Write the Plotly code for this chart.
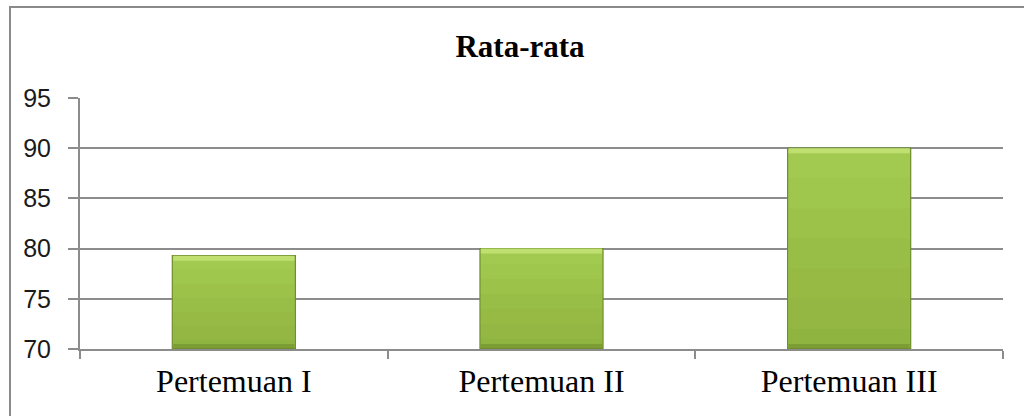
import plotly.graph_objects as go

# Data
categories = ["Pertemuan I", "Pertemuan II", "Pertemuan III"]
rata_rata = [79.3, 80.0, 90.0]
y_ticks = [70, 75, 80, 85, 90, 95]

W, H = 1024, 416
ML, MR, MT, MB = 80, 21, 98, 67
GRID = "#8c8c8c"
BASE = 70

fig = go.Figure()

# Main bar body
fig.add_trace(go.Bar(
    x=categories, y=[v - BASE for v in rata_rata], base=BASE,
    width=0.4,
    marker=dict(color="#a2ca50", line=dict(color="#6e8c2c", width=1.2)),
    hoverinfo="skip", showlegend=False,
))
# Soft vertical shading: translucent layers that darken toward the bottom
for frac in (0.85, 0.7, 0.55, 0.4, 0.25, 0.1):
    fig.add_trace(go.Bar(
        x=categories, y=[(v - BASE) * frac for v in rata_rata], base=BASE,
        width=0.394,
        marker=dict(color="rgba(95,125,30,0.045)", line=dict(width=0)),
        hoverinfo="skip", showlegend=False,
    ))
# Dark bottom bevel
fig.add_trace(go.Bar(
    x=categories, y=[0.5 for _ in rata_rata], base=BASE,
    width=0.394,
    marker=dict(color="rgba(90,115,30,0.35)", line=dict(width=0)),
    hoverinfo="skip", showlegend=False,
))
# Bright top bevel
fig.add_trace(go.Bar(
    x=categories, y=[0.5 for _ in rata_rata], base=[v - 0.5 for v in rata_rata],
    width=0.394,
    marker=dict(color="#bfe070", line=dict(width=0)),
    hoverinfo="skip", showlegend=False,
))

fig.update_layout(
    width=W, height=H,
    margin=dict(l=ML, r=MR, t=MT, b=MB),
    paper_bgcolor="white", plot_bgcolor="white",
    barmode="overlay",
    title=dict(
        text="<b>Rata-rata</b>",
        x=520 / W, xanchor="center",
        y=1 - 46 / H, yanchor="middle",
        font=dict(family="Liberation Serif, Times New Roman, serif", size=31, color="black"),
    ),
    xaxis=dict(
        type="category",
        showgrid=False,
        showline=True, linecolor=GRID, linewidth=2,
        ticks="outside", tickson="boundaries", ticklen=8, tickwidth=2, tickcolor=GRID,
        tickfont=dict(family="Liberation Serif, Times New Roman, serif", size=32, color="black"),
        ticklabelstandoff=3,
    ),
    yaxis=dict(
        range=[70, 95],
        tickvals=y_ticks,
        ticktext=[str(t) for t in y_ticks],
        showgrid=True, gridcolor=GRID, gridwidth=2,
        showline=True, linecolor=GRID, linewidth=2,
        ticks="outside", ticklen=10, tickwidth=2, tickcolor=GRID,
        tickfont=dict(family="Liberation Sans, Arial, sans-serif", size=25, color="#1a1a1a"),
        ticklabelstandoff=12,
        zeroline=False,
    ),
)

# Outer chart frame (left and top edges fall inside the page)
pw = W - ML - MR
ph = H - MT - MB
def px_x(p):
    return (p - ML) / pw
def px_y(p):
    return 1 - (p - MT) / ph

fig.add_shape(type="rect", xref="paper", yref="paper",
              x0=px_x(10), x1=px_x(W + 20), y0=px_y(H + 20), y1=px_y(7),
              line=dict(color="#8a8a8a", width=2), fillcolor="rgba(0,0,0,0)", layer="above")

fig.write_html("out.html")
